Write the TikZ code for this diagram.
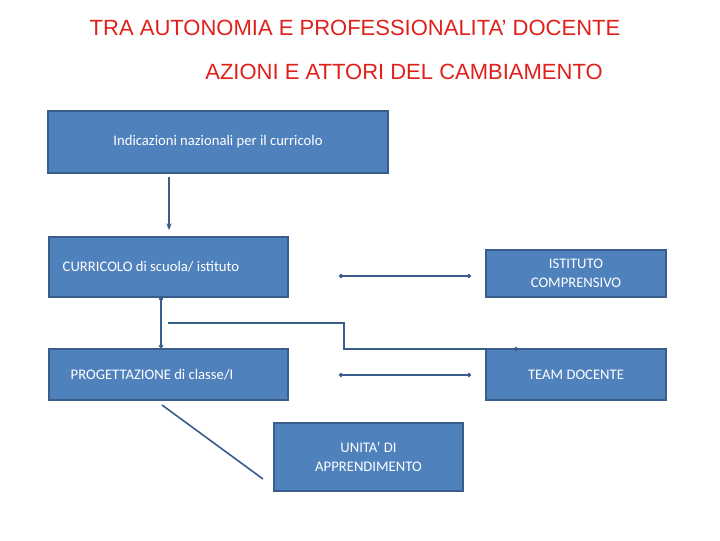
\documentclass[tikz,border=0pt]{standalone}
\usepackage{fontspec}
\setmainfont{Carlito}
\newfontfamily\titlefont{Liberation Sans}
\usetikzlibrary{arrows.meta}
\definecolor{boxfill}{HTML}{4F81BD}
\definecolor{boxline}{HTML}{385D8A}
\definecolor{titlered}{HTML}{E0201B}
\begin{document}
\begin{tikzpicture}[x=0.75pt,y=-0.75pt,
  box/.style={draw=boxline,line width=1.6pt,fill=boxfill,text=white,font=\fontsize{11}{14}\selectfont,inner sep=0pt},
  conn/.style={draw=boxline,line width=1.2pt,{Circle[length=3pt]}-{Circle[length=3pt]}},
  ttl/.style={text=titlered,font=\titlefont\fontsize{16.5}{20}\selectfont}]
\useasboundingbox (0,0) rectangle (720,540);
\node[ttl] (t1) at (355,28) {TRA AUTONOMIA E PROFESSIONALITA’ DOCENTE};
\node[ttl] (t2) at (404,72) {AZIONI E ATTORI DEL CAMBIAMENTO};
\node[box,minimum width=340*0.75pt,minimum height=62*0.75pt] (ind) at (218,142) {};
\node[text=white,font=\fontsize{11}{14}\selectfont] (indt) at (218,142) {Indicazioni nazionali per il curricolo};
\node[box,minimum width=239*0.75pt,minimum height=60*0.75pt] (cur) at (168.5,267) {};
\node[text=white,font=\fontsize{11}{14}\selectfont,anchor=west] (curt) at (58,267) {CURRICOLO di scuola/ istituto};
\node[box,minimum width=180*0.75pt,minimum height=47*0.75pt,align=center] (ist) at (576,273.5) {ISTITUTO\\COMPRENSIVO};
\node[box,minimum width=239*0.75pt,minimum height=51*0.75pt] (prog) at (168.5,374.5) {};
\node[text=white,font=\fontsize{11}{14}\selectfont,anchor=west] (progt) at (66,374.5) {PROGETTAZIONE di classe/I};
\node[box,minimum width=180*0.75pt,minimum height=51*0.75pt] (team) at (576,374.5) {TEAM DOCENTE};
\node[box,minimum width=189*0.75pt,minimum height=68*0.75pt,align=center] (unita) at (368.5,457) {UNITA’ DI\\APPRENDIMENTO};
\coordinate (a1) at (169,177); \coordinate (a2) at (169,230);
\coordinate (b1) at (339,276); \coordinate (b2) at (471,276);
\coordinate (c1) at (161,297); \coordinate (c2) at (161,348);
\coordinate (d1) at (168,323); \coordinate (d2) at (344,323); \coordinate (d3) at (344,349); \coordinate (d4) at (518,349);
\coordinate (e1) at (339,375); \coordinate (e2) at (471,375);
\coordinate (f1) at (162,405); \coordinate (f2) at (263,479);
\draw[draw=boxline,line width=1.2pt,-{Stealth[length=5pt,width=4pt]}] (a1) -- (a2);
\draw[conn] (b1) -- (b2);
\draw[conn] (c1) -- (c2);
\draw[draw=boxline,line width=1.2pt,-{Circle[length=3pt]}] (d1) -- (d2) -- (d3) -- (d4);
\draw[conn] (e1) -- (e2);
\draw[draw=boxline,line width=1.2pt] (f1) -- (f2);
\end{tikzpicture}
\end{document}
